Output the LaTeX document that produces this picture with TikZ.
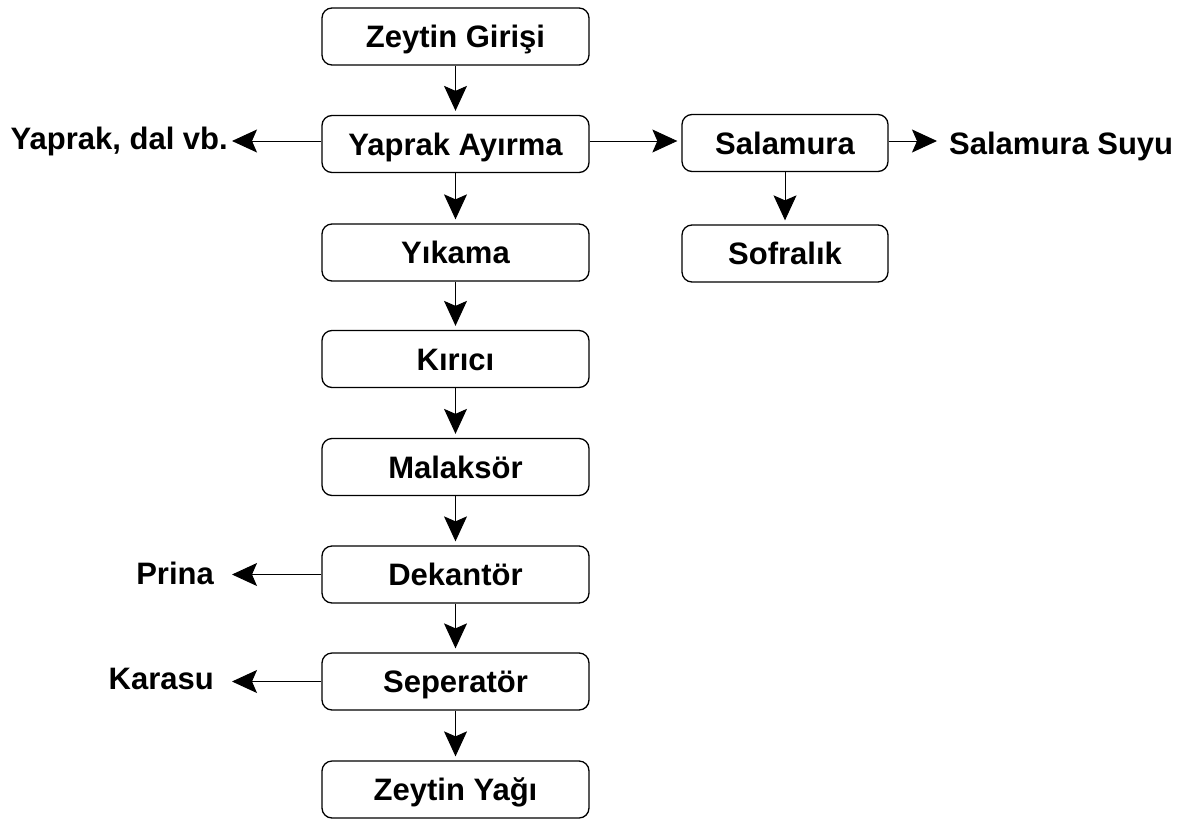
\documentclass[tikz,border=0pt]{standalone}
\usepackage{fontspec}
\setmainfont{Liberation Sans}
\usetikzlibrary{arrows.meta}
\begin{document}
\begin{tikzpicture}[x=1pt,y=-1pt,
  txt/.style={font=\bfseries\fontsize{31}{35}\selectfont,
    text height=25pt, text depth=3pt},
  box/.style={txt, draw, rounded corners=10pt, line width=1.3pt,
    minimum width=267pt, minimum height=57pt, inner sep=0pt},
  sidebox/.style={box, minimum width=206pt},
  lbl/.style={txt, inner sep=0pt},
  flow/.style={line width=1pt,
    -{Stealth[length=25pt,width=23pt,inset=5pt]}},
]
\useasboundingbox (0,0) rectangle (1182,819);

% main process line
\node[box] (giris)  at (455.5,36.5)  {Zeytin Girişi};
\node[box] (yaprak) at (455.5,144)   {Yaprak Ayırma};
\node[box] (yikama) at (455.5,252.5) {Yıkama};
\node[box] (kirici) at (455.5,359)   {Kırıcı};
\node[box] (malak)  at (455.5,467)   {Malaksör};
\node[box] (dekant) at (455.5,574.5) {Dekantör};
\node[box] (seper)  at (455.5,681.5) {Seperatör};
\node[box] (yag)    at (455.5,789.5) {Zeytin Yağı};

% table olive branch
\node[sidebox] (salam) at (785,143)   {Salamura};
\node[sidebox] (sofra) at (785,253.5) {Sofralık};

% by-products
\node[lbl, anchor=east] (dal)    at (228,138) {Yaprak, dal vb.};
\node[lbl, anchor=east] (prina)  at (214,573) {Prina};
\node[lbl, anchor=east] (karasu) at (214,678) {Karasu};
\node[lbl, anchor=west] (suyu)   at (949,143) {Salamura Suyu};

% side outlets sit a little above the box centres
\coordinate (yaW) at ([yshift=3pt]yaprak.west);
\coordinate (yaE) at ([yshift=3pt]yaprak.east);
\coordinate (saE) at ([yshift=2pt]salam.east);

% connectors
\draw[flow, shorten >=4pt] (giris) -- (yaprak);
\draw[flow, shorten >=4pt] (yaprak) -- (yikama);
\draw[flow, shorten >=4pt] (yikama) -- (kirici);
\draw[flow, shorten >=4pt] (kirici) -- (malak);
\draw[flow, shorten >=4pt] (malak) -- (dekant);
\draw[flow, shorten >=4pt] (dekant) -- (seper);
\draw[flow, shorten >=4pt] (seper) -- (yag);

\draw[flow, shorten >=4pt] (yaW) -- (dal.east |- yaW);
\draw[flow, shorten >=18pt] (dekant.west) -- (prina.east |- dekant.west);
\draw[flow, shorten >=18pt] (seper.west) -- (karasu.east |- seper.west);

\draw[flow, shorten >=4pt] (yaE) -- (salam.west |- yaE);
\draw[flow, shorten >=4pt] (salam) -- (sofra);
\draw[flow, shorten >=12pt] (saE) -- (suyu.west |- saE);
\end{tikzpicture}
\end{document}
